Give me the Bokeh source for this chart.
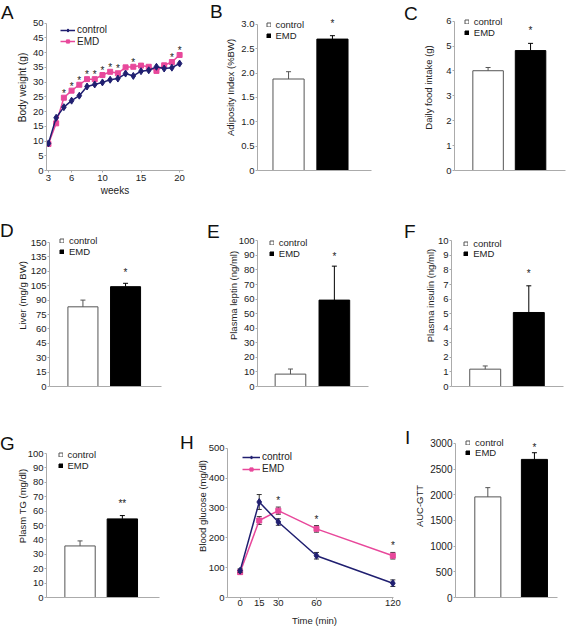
from bokeh.plotting import figure
from bokeh.models import Range1d, FixedTicker, Legend, LegendItem, ColumnDataSource, Div
from bokeh.layouts import row, column
from bokeh.embed import file_html
from bokeh.resources import INLINE
from bokeh.core.properties import value

# ---------------- data ----------------
groups = ["control", "EMD"]

weeks = [3, 4, 5, 6, 7, 8, 9, 10, 11, 12, 13, 14, 15, 16, 17, 18, 19, 20]
bw_control = [9.2, 17.9, 21.5, 23.7, 25.4, 28.5, 29.2, 29.9, 30.8, 31.2, 32.9, 32.1, 33.7, 34.0, 35.2, 34.6, 34.9, 36.3]
bw_emd = [9.0, 16.0, 24.7, 27.1, 29.1, 31.0, 31.0, 32.4, 33.5, 33.0, 35.0, 35.2, 35.6, 35.2, 33.8, 35.7, 36.8, 39.2]
bw_sig = ["", "", "*", "*", "*", "*", "*", "*", "*", "*", "", "*", "", "", "", "", "*", "*"]

adiposity = [1.88, 2.70]
adiposity_err = [0.15, 0.07]
adiposity_sig = ["", "*"]

food = [4.01, 4.82]
food_err = [0.13, 0.29]
food_sig = ["", "*"]

liver = [83.0, 104.0]
liver_err = [7.0, 3.5]
liver_sig = ["", "*"]

leptin = [8.5, 59.3]
leptin_err = [3.5, 23.3]
leptin_sig = ["", "*"]

insulin = [1.19, 5.08]
insulin_err = [0.22, 1.83]
insulin_sig = ["", "*"]

tg = [35.8, 54.6]
tg_err = [3.5, 2.3]
tg_sig = ["", "**"]

gtt_time = [0, 15, 30, 60, 120]
gtt_control = [90, 320, 253, 140, 48]
gtt_control_err = [6, 25, 11, 11, 11]
gtt_emd = [85, 258, 291, 230, 140]
gtt_emd_err = [6, 13, 12, 11, 11]
gtt_sig = ["", "", "*", "*", "*"]

auc = [1960, 2690]
auc_err = [180, 130]
auc_sig = ["", "*"]

# tick labels
A_yticks = [0, 5, 10, 15, 20, 25, 30, 35, 40, 45, 50]
A_xticks = [3, 6, 10, 15, 20]
B_ticks = [0, 0.5, 1.0, 1.5, 2.0, 2.5, 3.0]
B_labels = ["0", "0.5", "1.0", "1.5", "2.0", "2.5", "3.0"]
C_ticks = [0, 1, 2, 3, 4, 5, 6]
D_ticks = [0, 15, 30, 45, 60, 75, 90, 105, 120, 135, 150]
E_ticks = [0, 10, 20, 30, 40, 50, 60, 70, 80, 90, 100]
F_ticks = [0, 1, 2, 3, 4, 5, 6, 7, 8, 9, 10]
G_ticks = [0, 10, 20, 30, 40, 50, 60, 70, 80, 90, 100]
H_yticks = [0, 100, 200, 300, 400, 500]
I_ticks = [0, 500, 1000, 1500, 2000, 2500, 3000]

# ---------------- style ----------------
FONT = "Liberation Sans"
TXT = "#222222"
AXC = "#ababab"
NAVY = "#201f70"
PINK = "#e8489b"
BAR_FILL = ["#ffffff", "#000000"]
BAR_EDGE = ["#555555", "#000000"]
ROWH = 14.0   # height of one legend row


def make_fig(W, H, L, R, T, B, xr, yr, tick_size="9.5px", label_size="9.5px", ylab_standoff=2):
    p = figure(width=W, height=H, x_range=xr, y_range=yr, output_backend="svg",
               toolbar_location=None, min_border_left=L, min_border_right=W - R,
               min_border_top=T, min_border_bottom=H - B)
    p.outline_line_color = None
    p.grid.visible = False
    for ax in p.axis:
        ax.axis_line_color = AXC
        ax.major_tick_line_color = AXC
        ax.minor_tick_line_color = None
        ax.major_tick_out = 2
        ax.major_tick_in = 0
        ax.major_label_standoff = 1
        ax.major_label_text_font = FONT
        ax.major_label_text_font_size = tick_size
        ax.major_label_text_color = TXT
        ax.major_label_text_line_height = 1.0
        ax.axis_label_text_font = FONT
        ax.axis_label_text_font_size = label_size
        ax.axis_label_text_font_style = "normal"
        ax.axis_label_text_color = TXT
        ax.axis_label_text_line_height = 1.0
        ax.axis_label_standoff = 0
    p.yaxis.axis_label_standoff = ylab_standoff
    return p


def style_legend(leg, size, gw, gh, standoff):
    leg.glyph_width = gw
    leg.glyph_height = gh
    leg.label_height = 0
    leg.label_standoff = standoff
    leg.spacing = 0
    leg.padding = 0
    leg.margin = 0
    leg.border_line_color = None
    leg.background_fill_alpha = 0
    leg.label_text_font = FONT
    leg.label_text_font_size = size
    leg.label_text_color = TXT


def add_series_legends(p, entries, rows, vx, fb, size, gw, gh, standoff):
    for (lab, rends, idx), rc in zip(entries, rows):
        if idx is None:
            item = LegendItem(label=lab, renderers=rends)
        else:
            item = LegendItem(label=lab, renderers=rends, index=idx)
        leg = Legend(items=[item], location=(vx, fb - rc - ROWH / 2))
        style_legend(leg, size, gw, gh, standoff)
        p.add_layout(leg)


def letter_div(letter, w, h, pad_left, pad_top):
    html = ('<div style="font-family:\'Liberation Sans\',Arial,sans-serif;font-size:19px;'
            'line-height:19px;color:#111111;padding:%.1fpx 0 0 %.1fpx;white-space:nowrap;">%s</div>'
            % (pad_top, pad_left, letter))
    return Div(text=html, width=w, height=h, margin=0)


def bar_panel(ylabel, vals, errs, sig, ticks, labels, geo, tick_size="9.5px"):
    W, H = geo["W"], geo["H"]
    L, B, T = geo["L"], geo["B"], 4
    R = W - 1
    k, u = geo["k"], geo["u"]
    x0 = -geo["c0"] / u
    x1 = x0 + (R - L) / u
    y1 = (B - T) / k
    p = make_fig(W, H, L, R, T, B, Range1d(x0, x1), Range1d(0, y1), tick_size=tick_size,
                 ylab_standoff=geo["ls"])
    idx = list(range(len(groups)))
    src = ColumnDataSource(dict(x=idx, top=vals, hi=[v + e for v, e in zip(vals, errs)],
                                fill=BAR_FILL, edge=BAR_EDGE, sig=sig))
    bars = p.vbar(x="x", top="top", bottom=0, width=geo["bw"] / u, fill_color="fill",
                  line_color="edge", line_width=1, source=src)
    p.segment(x0="x", y0="top", x1="x", y1="hi", line_color="edge", line_width=1, source=src)
    p.scatter(x="x", y="hi", marker="dash", size=5, line_color="edge", line_width=1, source=src)
    p.text(x="x", y="hi", text="sig", source=src, text_align="center", text_baseline="middle",
           y_offset=-(geo["gap"] - 3), text_font=value(FONT), text_font_size="10px", text_color=TXT)
    p.xaxis.ticker = FixedTicker(ticks=[])
    p.xaxis.bounds = (x0, x0 + min(geo["axlen"], R - L) / u)
    p.yaxis.ticker = FixedTicker(ticks=ticks)
    p.yaxis.bounds = (0, ticks[-1])
    p.yaxis.major_label_overrides = {float(t): s for t, s in zip(ticks, labels)}
    p.yaxis.axis_label = ylabel
    entries = [(g, [bars], i) for i, g in enumerate(groups)]
    add_series_legends(p, entries, geo["rows"], geo["vx"], B, "9.5px", 5, 5, 5)
    return p


def strs(ticks):
    return [str(t) for t in ticks]


# ---------------- panel A ----------------
def panel_A():
    W, H = 192, 200
    L, R, T, B = 29, 170, 4, 173
    ky = (B - 23) / 50.0
    kx, x3 = 7.94, 31.0
    x0 = weeks[0] - (x3 - L) / kx
    x1 = weeks[0] + (R - x3) / kx
    p = make_fig(W, H, L, R, T, B, Range1d(x0, x1), Range1d(0, (B - T) / ky), ylab_standoff=2)
    srcc = ColumnDataSource(dict(w=weeks, y=bw_control))
    srce = ColumnDataSource(dict(w=weeks, y=bw_emd, sig=bw_sig))
    le = p.line(x="w", y="y", line_color=PINK, line_width=1.5, source=srce)
    se = p.scatter(x="w", y="y", marker="square", size=5, color=PINK, source=srce)
    lc = p.line(x="w", y="y", line_color=NAVY, line_width=1.5, source=srcc)
    sc = p.scatter(x="w", y="y", marker="diamond", size=7, color=NAVY, source=srcc)
    p.text(x="w", y="y", text="sig", source=srce, text_align="center", text_baseline="middle",
           y_offset=-4.5, text_font=value(FONT), text_font_size="10px", text_color=TXT)
    p.xaxis.ticker = FixedTicker(ticks=A_xticks)
    p.yaxis.ticker = FixedTicker(ticks=A_yticks)
    p.yaxis.bounds = (0, 50)
    p.xaxis.axis_label = "weeks"
    p.yaxis.axis_label = "Body weight (g)"
    p.xaxis.major_label_standoff = 2
    p.xaxis.axis_label_standoff = 1
    p.axis.axis_label_text_font_size = "10px"
    add_series_legends(p, [(groups[0], [lc, sc], None), (groups[1], [le, se], None)],
                       [31, 42.7], 14, B, "10px", 15, 8, 2)
    return p


# ---------------- panel H ----------------
def panel_H():
    W, H = 212, 218
    L, R, T, B = 29, 208, 4, 187
    kx, xz = 1.309, 42.0
    ky = 0.2984
    x0 = (L - xz) / kx
    x1 = (R - xz) / kx
    p = make_fig(W, H, L, R, T, B, Range1d(x0, x1), Range1d(0, (B - T) / ky), ylab_standoff=-2)
    srcc = ColumnDataSource(dict(t=gtt_time, y=gtt_control,
                                 lo=[v - e for v, e in zip(gtt_control, gtt_control_err)],
                                 hi=[v + e for v, e in zip(gtt_control, gtt_control_err)]))
    srce = ColumnDataSource(dict(t=gtt_time, y=gtt_emd,
                                 lo=[v - e for v, e in zip(gtt_emd, gtt_emd_err)],
                                 hi=[v + e for v, e in zip(gtt_emd, gtt_emd_err)], sig=gtt_sig))
    rend = {}
    for name, s, col, mk, sz in (("emd", srce, PINK, "square", 5), ("ctrl", srcc, NAVY, "diamond", 7)):
        p.segment(x0="t", y0="lo", x1="t", y1="hi", line_color="#333333", line_width=1, source=s)
        p.scatter(x="t", y="lo", marker="dash", size=5, line_color="#333333", source=s)
        p.scatter(x="t", y="hi", marker="dash", size=5, line_color="#333333", source=s)
        l = p.line(x="t", y="y", line_color=col, line_width=1.5, source=s)
        m = p.scatter(x="t", y="y", marker=mk, size=sz, color=col, source=s)
        rend[name] = [l, m]
    p.text(x="t", y="hi", text="sig", source=srce, text_align="center", text_baseline="middle",
           y_offset=-6.5, text_font=value(FONT), text_font_size="10px", text_color=TXT)
    p.xaxis.ticker = FixedTicker(ticks=gtt_time)
    p.xaxis.bounds = (x0, 120.5)
    p.xaxis.major_label_standoff = 0
    p.xaxis.axis_label_standoff = 6
    p.yaxis.ticker = FixedTicker(ticks=H_yticks)
    p.yaxis.bounds = (0, 500)
    p.xaxis.axis_label = "Time (min)"
    p.yaxis.axis_label = "Blood glucose (mg/dl)"
    add_series_legends(p, [(groups[0], rend["ctrl"], None), (groups[1], rend["emd"], None)],
                       [45, 57.3], 15, B, "10px", 18, 8, 2)
    return p


geoB = dict(W=182, H=200, L=31, B=170, k=48.67, c0=31.9, u=45.1, bw=32, axlen=117,
            rows=[23, 34], vx=8.5, gap=15.5, ls=2)
geoC = dict(W=146, H=200, L=30, B=173, k=25.33, c0=34.8, u=44, bw=31.6, axlen=115,
            rows=[23.3, 34], vx=9.8, gap=15.5, ls=9)
geoD = dict(W=192, H=210, L=31, B=186, k=0.96, c0=34.5, u=44, bw=31, axlen=115.7,
            rows=[39, 50], vx=9.9, gap=13.4, ls=0)
geoE = dict(W=180, H=210, L=28, B=186, k=1.457, c0=34.1, u=45.4, bw=31.7, axlen=115,
            rows=[40.7, 51.7], vx=11.8, gap=13, ls=-3)
geoF = dict(W=145, H=210, L=25, B=186, k=14.57, c0=35.2, u=45.5, bw=32.3, axlen=117,
            rows=[41.7, 52.3], vx=12.2, gap=15, ls=-1)
geoG = dict(W=167, H=218, L=28, B=187, k=1.44, c0=34.8, u=43.9, bw=31.5, axlen=117,
            rows=[43.3, 54], vx=11.5, gap=14.6, ls=-3)
geoI = dict(W=155, H=218, L=40, B=189, k=0.0519, c0=33.5, u=48.3, bw=27, axlen=106,
            rows=[32.7, 42.7], vx=10.1, gap=8, ls=2)

pA = panel_A()
pB = bar_panel("Adiposity Index (%BW)", adiposity, adiposity_err, adiposity_sig, B_ticks, B_labels, geoB)
pC = bar_panel("Daily food intake (g)", food, food_err, food_sig, C_ticks, strs(C_ticks), geoC)
pD = bar_panel("Liver (mg/g BW)", liver, liver_err, liver_sig, D_ticks, strs(D_ticks), geoD)
pE = bar_panel("Plasma leptin (ng/ml)", leptin, leptin_err, leptin_sig, E_ticks, strs(E_ticks), geoE)
pF = bar_panel("Plasma insulin (ng/ml)", insulin, insulin_err, insulin_sig, F_ticks, strs(F_ticks), geoF)
pG = bar_panel("Plasm TG (mg/dl)", tg, tg_err, tg_sig, G_ticks, strs(G_ticks), geoG)
pH = panel_H()
pI = bar_panel("AUC-GTT", auc, auc_err, auc_sig, I_ticks, strs(I_ticks), geoI, tick_size="10px")

row1 = row(letter_div("A", 13, 200, 1, 2.5), pA, letter_div("B", 17, 200, 5, 1.5), pB,
           letter_div("C", 16, 200, 0, 3.5), pC, spacing=0)
row2 = row(letter_div("D", 13, 210, 0, 20.8), pD, letter_div("E", 19, 210, 2, 21.5), pE,
           letter_div("F", 17, 210, 0, 21.5), pF, spacing=0)
row3 = row(letter_div("G", 13, 218, 0, 23.5), pG, letter_div("H", 13, 218, 0, 22.5), pH,
           letter_div("I", 6, 218, 0, 17.5), pI, spacing=0)
layout = column(row1, row2, row3, spacing=0)

with open("out.html", "w") as f:
    f.write(file_html(layout, INLINE))
